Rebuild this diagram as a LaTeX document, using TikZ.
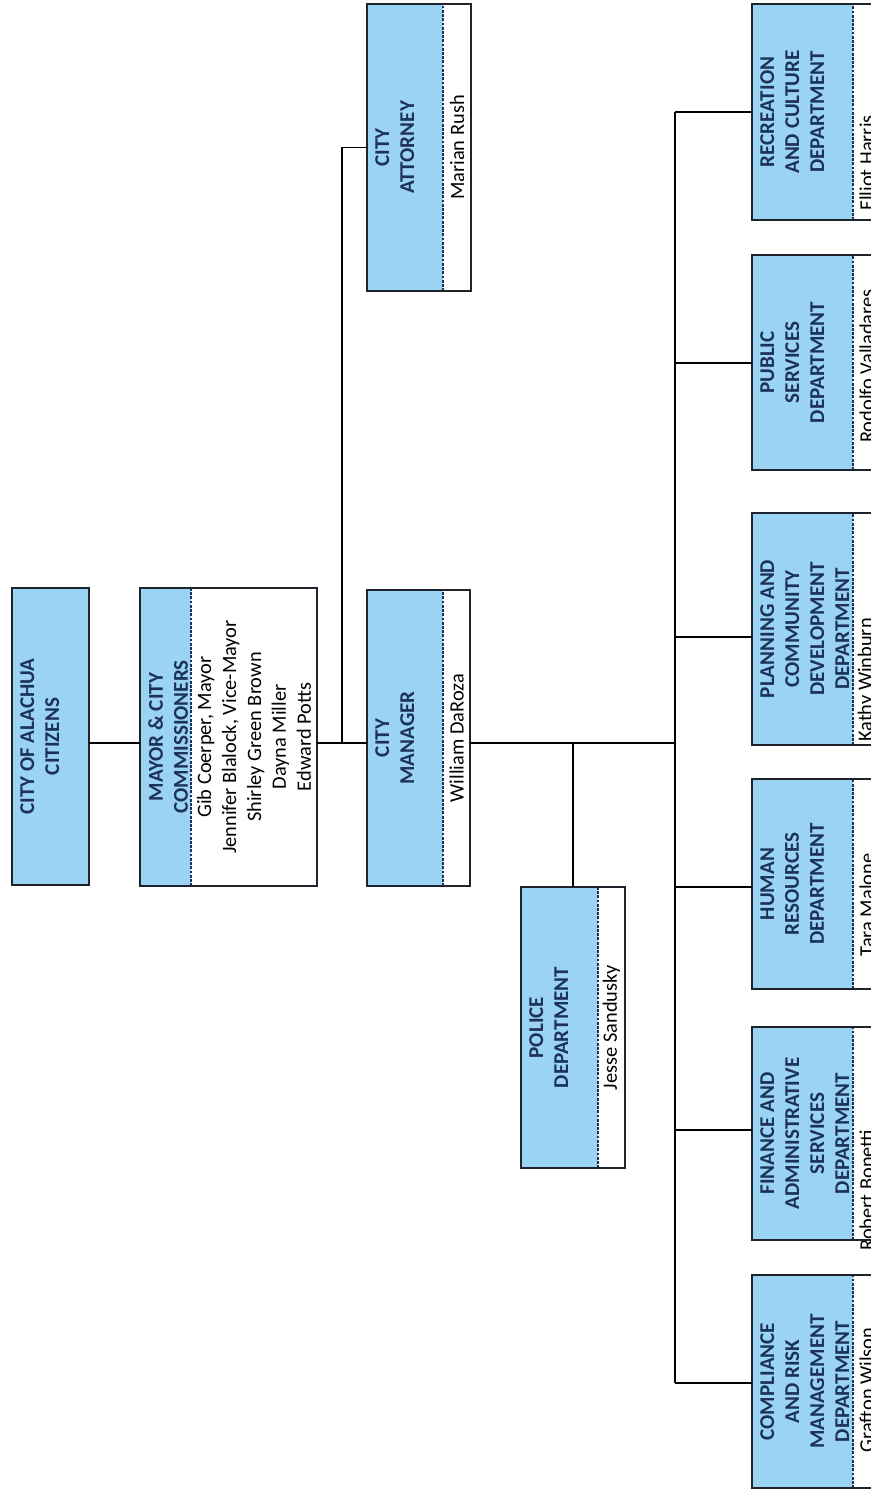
\documentclass[tikz,border=0pt]{standalone}
\usepackage{fontspec}
\setmainfont{Carlito}
\usetikzlibrary{positioning}
\definecolor{boxblue}{RGB}{155,211,245}
\definecolor{headblue}{RGB}{28,50,88}
\definecolor{framedark}{RGB}{30,36,44}

\begin{document}
\begin{tikzpicture}[x=0.02cm, y=-0.02cm,
    part/.style={rotate=90, inner sep=0pt, outer sep=0pt},
    bluepart/.style={part, fill=boxblue},
    whitepart/.style={part, fill=white},
    head/.style={rotate=90, anchor=north, inner xsep=2pt, inner ysep=0.16cm, align=center,
                 text=headblue, font=\fontsize{12}{14.2}\selectfont\bfseries},
    who/.style={rotate=90, inner sep=0pt, align=center, font=\fontsize{11.6}{14.2}\selectfont},
    boxline/.style={draw=framedark, line width=1pt},
    divide/.style={draw=headblue, line width=0.7pt, dash pattern=on 1.6pt off 0.8pt},
    link/.style={draw=black, line width=1.1pt}
]
    \clip (0,0) rectangle (871,1490);
    % citizens and commission
    \node[bluepart, minimum width=5.94cm, minimum height=1.54cm] (citB) at (50.5,736.5) {};
    \node[head] (citT) at (citB.north) {CITY OF ALACHUA\\CITIZENS};
    \draw[boxline] (citB.north west) rectangle (citB.south east);

    \node[bluepart, minimum width=5.96cm, minimum height=1.02cm] (mayB) at (165.5,737) {};
    \node[whitepart, minimum width=5.96cm, minimum height=2.52cm] (mayN) at (254,737) {};
    \node[head] (mayT) at (mayB.north) {MAYOR \& CITY\\COMMISSIONERS};
    \node[who] (mayW) at (mayN) {Gib Coerper, Mayor\\Jennifer Blalock, Vice-Mayor\\Shirley Green Brown\\Dayna Miller\\Edward Potts};
    \draw[divide] (mayB.south west) -- (mayB.south east);
    \draw[boxline] (mayB.north west) rectangle (mayN.south east);

    % attorney and manager
    \node[bluepart, minimum width=5.74cm, minimum height=1.52cm] (attB) at (405,147.5) {};
    \node[whitepart, minimum width=5.74cm, minimum height=0.56cm] (attN) at (457,147.5) {};
    \node[head] (attT) at (attB.north) {CITY\\ATTORNEY};
    \node[who] (attW) at (attN) {Marian Rush};
    \draw[divide] (attB.south west) -- (attB.south east);
    \draw[boxline] (attB.north west) rectangle (attN.south east);

    \node[bluepart, minimum width=5.92cm, minimum height=1.52cm] (mgrB) at (405,738) {};
    \node[whitepart, minimum width=5.92cm, minimum height=0.54cm] (mgrN) at (456.5,738) {};
    \node[head] (mgrT) at (mgrB.north) {CITY\\MANAGER};
    \node[who] (mgrW) at (mgrN) {William DaRoza};
    \draw[divide] (mgrB.south west) -- (mgrB.south east);
    \draw[boxline] (mgrB.north west) rectangle (mgrN.south east);

    % police
    \node[bluepart, minimum width=5.62cm, minimum height=1.54cm] (polB) at (559.5,1027.5) {};
    \node[whitepart, minimum width=5.62cm, minimum height=0.54cm] (polN) at (611.5,1027.5) {};
    \node[head] (polT) at (polB.north) {POLICE\\DEPARTMENT};
    \node[who] (polW) at (polN) {Jesse Sandusky};
    \draw[divide] (polB.south west) -- (polB.south east);
    \draw[boxline] (polB.north west) rectangle (polN.south east);

    % departments
    \node[bluepart, minimum width=4.32cm, minimum height=2.02cm] (recB) at (802.5,112) {};
    \node[whitepart, minimum width=4.32cm, minimum height=0.54cm] (recN) at (866.5,112) {};
    \node[head] (recT) at (recB.north) {RECREATION\\AND CULTURE\\DEPARTMENT};
    \node[who] (recW) at (866.5,163) {Elliot Harris};
    \draw[divide] (recB.south west) -- (recB.south east);
    \draw[boxline] (recB.north west) rectangle (recN.south east);

    \node[bluepart, minimum width=4.30cm, minimum height=2.02cm] (pubB) at (802.5,362.5) {};
    \node[whitepart, minimum width=4.30cm, minimum height=0.54cm] (pubN) at (866.5,362.5) {};
    \node[head] (pubT) at (pubB.north) {PUBLIC\\SERVICES\\DEPARTMENT};
    \node[who] (pubW) at (866.5,366) {Rodolfo Valladares};
    \draw[divide] (pubB.south west) -- (pubB.south east);
    \draw[boxline] (pubB.north west) rectangle (pubN.south east);

    \node[bluepart, minimum width=4.64cm, minimum height=2.02cm] (plnB) at (802.5,629) {};
    \node[whitepart, minimum width=4.64cm, minimum height=0.54cm] (plnN) at (866.5,629) {};
    \node[head] (plnT) at (plnB.north) {PLANNING AND\\COMMUNITY\\DEVELOPMENT\\DEPARTMENT};
    \node[who] (plnW) at (866.5,680) {Kathy Winburn};
    \draw[divide] (plnB.south west) -- (plnB.south east);
    \draw[boxline] (plnB.north west) rectangle (plnN.south east);

    \node[bluepart, minimum width=4.20cm, minimum height=2.02cm] (hrB) at (802.5,884) {};
    \node[whitepart, minimum width=4.20cm, minimum height=0.54cm] (hrN) at (866.5,884) {};
    \node[head] (hrT) at (hrB.north) {HUMAN\\RESOURCES\\DEPARTMENT};
    \node[who] (hrW) at (866.5,905) {Tara Malone};
    \draw[divide] (hrB.south west) -- (hrB.south east);
    \draw[boxline] (hrB.north west) rectangle (hrN.south east);

    \node[bluepart, minimum width=4.26cm, minimum height=2.02cm] (finB) at (802.5,1133.5) {};
    \node[whitepart, minimum width=4.26cm, minimum height=0.54cm] (finN) at (866.5,1133.5) {};
    \node[head] (finT) at (finB.north) {FINANCE AND\\ADMINISTRATIVE\\SERVICES\\DEPARTMENT};
    \node[who] (finW) at (866.5,1190) {Robert Bonetti};
    \draw[divide] (finB.south west) -- (finB.south east);
    \draw[boxline] (finB.north west) rectangle (finN.south east);

    \node[bluepart, minimum width=4.26cm, minimum height=2.02cm] (cmpB) at (802.5,1381.5) {};
    \node[whitepart, minimum width=4.26cm, minimum height=0.54cm] (cmpN) at (866.5,1381.5) {};
    \node[head] (cmpT) at (cmpB.north) {COMPLIANCE\\AND RISK\\MANAGEMENT\\DEPARTMENT};
    \node[who] (cmpW) at (866.5,1390) {Grafton Wilson};
    \draw[divide] (cmpB.south west) -- (cmpB.south east);
    \draw[boxline] (cmpB.north west) rectangle (cmpN.south east);

    % connectors
    \coordinate (spine) at (0,743);
    \coordinate (attJ) at (342,743);
    \coordinate (polJ) at (573,743);
    \coordinate (bus) at (675,743);
    \draw[link] (citB.south |- spine) -- (mayB.north |- spine);
    \draw[link] (mayN.south |- spine) -- (mgrB.north |- spine);
    \draw[link] (attJ) |- (attB.north);
    \draw[link] (mgrN.south |- spine) -- (bus);
    \draw[link] (polJ) -- (polJ |- polB.east);
    \coordinate (b1) at (675,112);
    \coordinate (b2) at (675,363);
    \coordinate (b3) at (675,637);
    \coordinate (b4) at (675,887);
    \coordinate (b5) at (675,1130);
    \coordinate (b6) at (675,1383);
    \draw[link] (b1) -- (b6);
    \draw[link] (b1) -- (b1 -| recB.north);
    \draw[link] (b2) -- (b2 -| pubB.north);
    \draw[link] (b3) -- (b3 -| plnB.north);
    \draw[link] (b4) -- (b4 -| hrB.north);
    \draw[link] (b5) -- (b5 -| finB.north);
    \draw[link] (b6) -- (b6 -| cmpB.north);
\end{tikzpicture}
\end{document}
